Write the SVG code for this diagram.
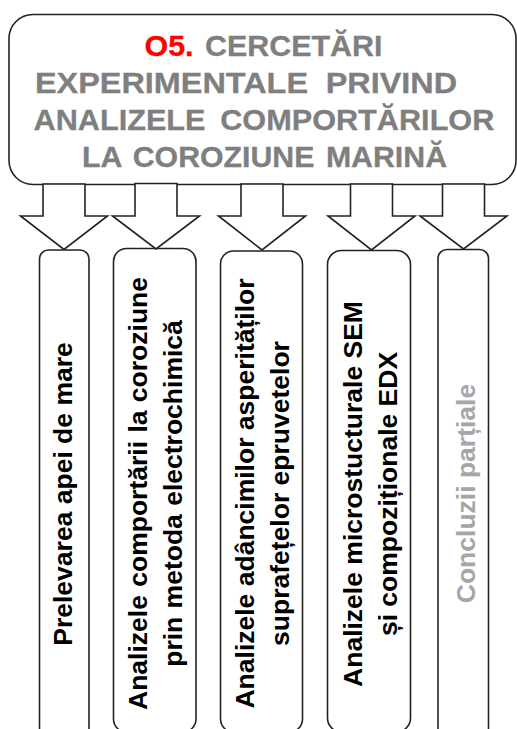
<svg xmlns="http://www.w3.org/2000/svg" width="517" height="729" viewBox="0 0 517 729">
  <style>
    .frame { fill: #ffffff; stroke: #222222; stroke-width: 1.6; }
    .arrow { fill: #ffffff; stroke: #222222; stroke-width: 1.6; stroke-linejoin: miter; }
    .title { font-family: "Liberation Sans", Arial, sans-serif; font-weight: bold; font-size: 30px; fill: #7f7f7f; stroke: #7f7f7f; stroke-width: 0.3px; }
    .accent { fill: #ff0000; stroke: #ff0000; }
    .label { font-family: "Liberation Sans", Arial, sans-serif; font-weight: bold; font-size: 26.5px; fill: #000000; text-anchor: middle; }
    .muted { fill: #a6a6a6; }
  </style>

  <rect width="517" height="729" fill="#ffffff"/>

  <!-- objective header -->
  <g id="objective">
    <rect class="frame" x="9" y="14.5" width="507" height="170" rx="24" ry="24"/>
    <text class="title" transform="translate(144.5 55.5) scale(1.014 1)" style="word-spacing:3px"><tspan class="accent">O5.</tspan> CERCETĂRI</text>
    <text class="title" transform="translate(35 93) scale(1.08 1)" style="word-spacing:8px">EXPERIMENTALE PRIVIND</text>
    <text class="title" transform="translate(33.5 130) scale(1.022 1)" style="word-spacing:6px">ANALIZELE COMPORTĂRILOR</text>
    <text class="title" transform="translate(82 167) scale(1.01 1)" style="word-spacing:3px">LA COROZIUNE MARINĂ</text>
  </g>

  <!-- task columns -->
  <g id="task-sampling">
    <rect class="frame" x="39.5" y="250" width="49.5" height="520" rx="9" ry="9"/>
    <g transform="translate(71.7 494) rotate(-90)">
      <text class="label" x="0" y="0">Prelevarea apei de mare</text>
    </g>
  </g>

  <g id="task-electrochemical">
    <rect class="frame" x="113.5" y="248.5" width="82.5" height="483.5" rx="13" ry="13"/>
    <g transform="translate(146.7 493.5) rotate(-90)">
      <text class="label" x="0" y="0" style="word-spacing:1px">Analizele comportării la coroziune</text>
      <text class="label" x="0" y="35" style="word-spacing:1px">prin metoda electrochimică</text>
    </g>
  </g>

  <g id="task-roughness">
    <rect class="frame" x="220.5" y="251" width="82" height="481" rx="13" ry="13"/>
    <g transform="translate(253.5 493.5) rotate(-90)">
      <text class="label" x="0" y="0">Analizele adâncimilor asperităților</text>
      <text class="label" x="0" y="35">suprafețelor epruvetelor</text>
    </g>
  </g>

  <g id="task-sem-edx">
    <rect class="frame" x="327.5" y="250.5" width="83" height="481.5" rx="14" ry="14"/>
    <g transform="translate(361.7 494) rotate(-90)">
      <text class="label" x="0" y="0">Analizele microstucturale SEM</text>
      <text class="label" x="0" y="35">și compoziționale EDX</text>
    </g>
  </g>

  <g id="task-conclusions">
    <rect class="frame" x="438" y="249.5" width="50.5" height="520" rx="9" ry="9"/>
    <g transform="translate(475 493.5) rotate(-90)">
      <text class="label muted" x="0" y="0">Concluzii parțiale</text>
    </g>
  </g>

  <!-- block arrows from the header down to each column -->
  <g id="connectors">
    <polygon class="arrow" points="43,184 85,184 85,216 107.5,216 64,249.5 20.5,216 43,216"/>
    <polygon class="arrow" points="135,183.5 177,183.5 177,216 199.5,216 156,249 112.5,216 135,216"/>
    <polygon class="arrow" points="241,184 283,184 283,216 305.5,216 262,250 218.5,216 241,216"/>
    <polygon class="arrow" points="350.5,184 392.5,184 392.5,216 415,216 371.5,250 328,216 350.5,216"/>
    <polygon class="arrow" points="442.5,184 484.5,184 484.5,216 507,216 463.5,249 420,216 442.5,216"/>
  </g>
</svg>
